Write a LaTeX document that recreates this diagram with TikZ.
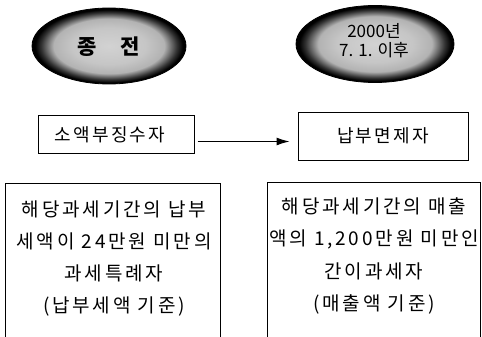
\documentclass[tikz,border=0pt]{standalone}
\usepackage{fontspec}
\setmainfont{Noto Sans CJK KR}
\newfontfamily\krsp[LetterSpace=12]{Noto Sans CJK KR}
\newfontfamily\krwide[LetterSpace=15]{Noto Sans CJK KR}
\usetikzlibrary{shapes.geometric,arrows.meta}
\pgfdeclareradialshading{ellshade}{\pgfpoint{0bp}{0bp}}{color(0bp)=(gray!35); color(12bp)=(gray!45); color(18bp)=(gray!60); color(22bp)=(black!80); color(24bp)=(black); color(50bp)=(black)}
\tikzset{
  oval/.style={ellipse, shade, shading=ellshade, draw=black, line width=0.8pt, inner sep=0pt},
  frame/.style={draw=black, line width=1pt, rectangle, inner sep=0pt},
  txt/.style={font=\krsp\fontsize{18}{32.3}\selectfont, align=center, inner sep=0pt},
  bigtxt/.style={font=\krwide\fontsize{19}{32.3}\selectfont, align=center, inner sep=0pt},
  conn/.style={line width=1pt, -{Latex[length=13pt,width=8pt]}}
}
\begin{document}
\begin{tikzpicture}[x=1pt,y=-1pt]
\useasboundingbox (0,0) rectangle (482,337);
% ellipses
\node[oval, minimum width=154pt, minimum height=76pt] (e1) at (109,46) {};
\node[font=\bfseries\fontsize{21}{21}\selectfont] (e1t) at (109,47) {종\hspace{24pt}전};
\node[oval, minimum width=158pt, minimum height=77pt] (e2) at (375,44) {};
\node[font=\fontsize{17}{19}\selectfont, align=center, inner sep=0pt] (e2t) at (374,41) {2000년\\7. 1. 이후};
% upper boxes
\node[frame, minimum width=156pt, minimum height=38pt] (b1) at (116,134.5) {};
\node[txt] (b1t) at (110,134.5) {소액부징수자};
\node[frame, minimum width=170pt, minimum height=48pt] (b2) at (383,136) {};
\node[txt] (b2t) at (b2) {납부면제자};
\draw[conn] ([xshift=3pt,yshift=-7pt]b1.east) -- ([xshift=-8pt,yshift=-5.5pt]b2.west);
% lower boxes
\node[frame, minimum width=215pt, minimum height=174pt] (l1) at (112.5,270) {};
\node[bigtxt] (l1t) at (114,258.5) {해당과세기간의 납부\\세액이 24만원 미만의\\과세특례자\\(납부세액 기준)};
\node[frame, minimum width=213pt, minimum height=174pt] (l2) at (373.5,269) {};
\node[bigtxt] (l2t) at (374,256) {해당과세기간의 매출\\액의 1,200만원 미만인\\간이과세자\\(매출액 기준)};
\end{tikzpicture}
\end{document}
